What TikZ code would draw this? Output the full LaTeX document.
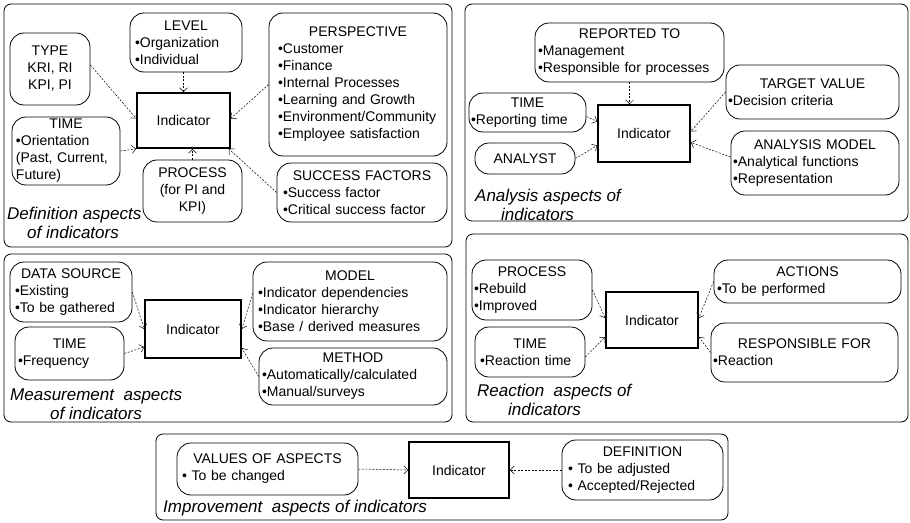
\documentclass[tikz,border=0pt]{standalone}
\usepackage{fontspec}
\setmainfont{Liberation Sans}
\usetikzlibrary{arrows.meta,calc}

% a centred heading line inside a box with a fixed text width
\newcommand\boxhead[1]{\makebox[\linewidth]{#1}}
\newcommand\itemdot{\textbullet}

\begin{document}
\begin{tikzpicture}[x=1pt,y=-1pt,
  every node/.style={font=\fontsize{14}{17}\selectfont, inner sep=0pt},
  panel/.style={draw, rounded corners=7pt, line width=0.8pt},
  % width, height, left inset of the bullet lines
  bx/.style n args={3}{draw, rounded corners=14pt, line width=0.8pt,
    minimum width=#1, minimum height=#2, text width=#1-2*#3, align=left},
  cbx/.style 2 args={draw, rounded corners=14pt, line width=0.8pt,
    minimum width=#1, minimum height=#2, align=center},
  indbox/.style 2 args={draw, line width=1.6pt, minimum width=#1, minimum height=#2},
  caption/.style={font=\fontsize{17}{19}\selectfont\itshape, align=left, anchor=west},
  link/.style={dash pattern=on 2pt off 1.5pt, line width=0.5pt,
    -{Straight Barb[length=4pt,width=8pt]}}
]
\path[fill=white] (0,0) rectangle (910,522);
\useasboundingbox (0,0) rectangle (910,522);

% ---------------- definition aspects ----------------
\draw[panel] (4,4) rectangle (452,247);
\node[indbox={93}{55}] (ind1) at (183.5,120.5) {Indicator};
\node[cbx={80}{72}] (type) at (50,69) {TYPE\\KRI, RI\\KPI, PI};
\node[bx={112}{59}{5}] (level) at (186,42.5)
  {\boxhead{LEVEL}\\\itemdot Organization\\\itemdot Individual};
\node[bx={178}{143}{9}] (persp) at (358,84.5)
  {\boxhead{PERSPECTIVE}\\\itemdot Customer\\\itemdot Finance\\\itemdot Internal Processes\\
   \itemdot Learning and Growth\\\itemdot Environment/Community\\\itemdot Employee satisfaction};
\node[bx={108}{68}{4}] (time1) at (66,151)
  {\boxhead{TIME}\\\itemdot Orientation\\(Past, Current,\\Future)};
\node[cbx={99}{62}] (proc1) at (192.5,191) {PROCESS\\(for PI and\\KPI)};
\node[bx={170}{59}{6}] (succ) at (362,192.5)
  {\boxhead{SUCCESS FACTORS}\\\itemdot Success factor\\\itemdot Critical success factor};
\node[caption] (cap1) at (7,222.5) {Definition aspects\\\hspace*{20pt}of indicators};

\draw[link] ($(type.east)+(0,-4)$) -- ($(ind1.west)+(0,-2)$);
\draw[link] (level.south -| ind1.north) -- (ind1.north);
\draw[link] (persp.west) -- ($(ind1.east)+(0,-2)$);
\draw[link] (time1.east) -- (ind1.south west);
\draw[link] (proc1.north) -- (proc1.north |- ind1.south);
\draw[link] (succ.west) -- ($(ind1.south east)+(-2,0)$);

% ---------------- analysis aspects ----------------
\draw[panel] (465,4) rectangle (908,221);
\node[indbox={92}{57}] (ind2) at (644,133.5) {Indicator};
\node[bx={189}{59}{3}] (rep) at (629.5,52.5)
  {\boxhead{REPORTED TO}\\\itemdot Management\\\itemdot Responsible for processes};
\node[bx={117}{39}{2}] (time2) at (527.5,112.5) {\boxhead{TIME}\\\itemdot Reporting time};
\node[cbx={100}{31}] (analyst) at (525,158.5) {ANALYST};
\node[bx={173}{54}{2}] (target) at (812.5,92) {\boxhead{TARGET VALUE}\\\itemdot Decision criteria};
\node[bx={168}{64}{2}] (amodel) at (815,163)
  {\boxhead{ANALYSIS MODEL}\\\itemdot Analytical functions\\\itemdot Representation};
\node[caption] (cap2) at (475,205) {Analysis aspects of\\\hspace*{26pt}indicators};

\draw[link] (rep.south) -- (rep.south |- ind2.north);
\draw[link] ($(time2.east)+(0,4)$) -- ($(ind2.west)+(0,-12)$);
\draw[link] (analyst.east) -- ($(ind2.west)+(0,12)$);
\draw[link] (target.west) -- ($(ind2.east)+(0,-2)$);
\draw[link] ($(amodel.west)+(0,-6)$) -- ($(ind2.east)+(0,9)$);

% ---------------- measurement aspects ----------------
\draw[panel] (4,254) rectangle (452,422);
\node[indbox={96}{58}] (ind3) at (193,329) {Indicator};
\node[bx={122}{60}{5}] (ds) at (71,292)
  {\boxhead{DATA SOURCE}\\\itemdot Existing\\\itemdot To be gathered};
\node[bx={109}{53}{3}] (time3) at (69.5,353.5) {\boxhead{TIME}\\\itemdot Frequency};
\node[bx={194}{79}{5}] (model) at (350,301.5)
  {\boxhead{MODEL}\\\itemdot Indicator dependencies\\\itemdot Indicator hierarchy\\\itemdot Base / derived measures};
\node[bx={188}{57}{3}] (method) at (353,376.5)
  {\boxhead{METHOD}\\\itemdot Automatically/calculated\\\itemdot Manual/surveys};
\node[caption] (cap3) at (10,404) {Measurement\ \ aspects\\\hspace*{40pt}of indicators};

\draw[link] (ds.east) -- (ind3.west);
\draw[link] (time3.east) -- ($(ind3.west)+(0,18)$);
\draw[link] ($(model.west)+(0,-8)$) -- (ind3.east);
\draw[link] (method.west) -- ($(ind3.east)+(0,19)$);

% ---------------- reaction aspects ----------------
\draw[panel] (466,234) rectangle (908,422);
\node[indbox={92}{56}] (ind4) at (652,320) {Indicator};
\node[bx={120}{60}{2}] (proc4) at (532,290) {\boxhead{PROCESS}\\\itemdot Rebuild\\\itemdot Improved};
\node[bx={110}{50}{5}] (time4) at (530,352) {\boxhead{TIME}\\\itemdot Reaction time};
\node[bx={187}{43}{3}] (actions) at (807.5,281.5) {\boxhead{ACTIONS}\\\itemdot To be performed};
\node[bx={187}{59}{2}] (resp) at (804.5,352.5) {\boxhead{RESPONSIBLE FOR}\\\itemdot Reaction};
\node[caption] (cap4) at (477,400) {Reaction\ \ aspects of\\\hspace*{31pt}indicators};

\draw[link] (proc4.east) -- ($(ind4.west)+(0,-2)$);
\draw[link] ($(time4.east)+(0,5)$) -- ($(ind4.west)+(0,17)$);
\draw[link] (actions.west) -- ($(ind4.east)+(0,-2)$);
\draw[link] (resp.west) -- ($(ind4.east)+(0,17)$);

% ---------------- improvement aspects ----------------
\draw[panel] (156,434) rectangle (728,520);
\node[indbox={100}{56}] (ind5) at (459,470) {Indicator};
\node[bx={181}{52}{5}] (values) at (267.5,469) {\boxhead{VALUES OF ASPECTS}\\\itemdot\ To be changed};
\node[bx={161}{60}{6}] (def) at (642.5,470)
  {\boxhead{DEFINITION}\\\itemdot\ To be adjusted\\\itemdot\ Accepted/Rejected};
\node[caption] (cap5) at (163,508) {Improvement\ \ aspects of indicators};

\draw[link] (values.east) -- (ind5.west);
\draw[link] (def.west) -- (ind5.east);
\end{tikzpicture}
\end{document}
